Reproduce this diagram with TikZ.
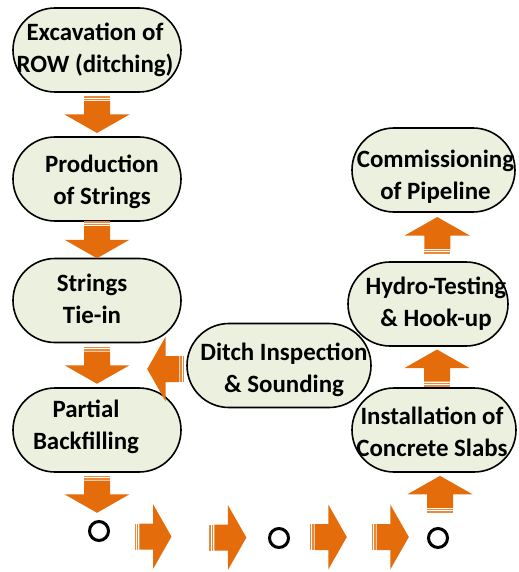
\documentclass[tikz,border=0pt]{standalone}
\usepackage{fontspec}
\setmainfont{Carlito}
\usetikzlibrary{calc,shapes.misc}
\definecolor{arrorange}{HTML}{E46C0A}
\definecolor{boxfill}{HTML}{EBF1DE}
\tikzset{
  procbox/.style={rounded rectangle, draw=black, line width=1.6bp, fill=boxfill,
    minimum height=84bp, inner sep=0pt},
  boxtext/.style={align=center, inner sep=0pt, font=\bfseries\fontsize{25}{32}\selectfont},
  dot/.style={circle, draw=black, line width=3bp, minimum size=19bp, inner sep=0pt},
  arrbody/.style={fill=arrorange},
  arrstripe/.style={fill=arrorange!80},
  sarrow/.pic={
    \fill[arrstripe] (-18.5,-13) rectangle (-16.9,13);
    \fill[arrstripe] (-15.9,-13) rectangle (-14.6,13);
    \fill[arrbody] (-13.6,-13) -- (0,-13) -- (0,-32.5) -- (18.5,0) -- (0,32.5) -- (0,13) -- (-13.6,13) -- cycle;
  }
}
\begin{document}
\begin{tikzpicture}[x=1bp,y=-1bp]
\useasboundingbox (0,0) rectangle (519,572);
% boxes
\node[procbox, minimum width=168bp] (b1) at (97,50) {};
\node[procbox, minimum width=168bp] (b2) at (97,179) {};
\node[procbox, minimum width=168bp] (b3) at (97,300.5) {};
\node[procbox, minimum width=168bp] (b4) at (97,430) {};
\node[procbox, minimum width=184bp] (b5) at (279,365.5) {};
\node[procbox, minimum width=164bp] (b6) at (434,430) {};
\node[procbox, minimum width=160bp] (b7) at (428,304) {};
\node[procbox, minimum width=163bp] (b8) at (433.5,170) {};
% texts
\node[boxtext] (t1) at ($(b1)+(-2,0)$) {Excavation of\\ROW (ditching)};
\node[boxtext] (t2) at ($(b2)+(5,3)$) {Production\\of Strings};
\node[boxtext] (t3) at ($(b3)+(-5,-2)$) {Strings\\Tie-in};
\node[boxtext] (t4) at ($(b4)+(-11,-3)$) {Partial\\Backfilling};
\node[boxtext] (t5) at ($(b5)+(5,4)$) {Ditch Inspection\\\& Sounding};
\node[boxtext] (t6) at ($(b6)+(-2,2)$) {Installation of\\Concrete Slabs};
\node[boxtext] (t7) at ($(b7)+(8,0)$) {Hydro-Testing\\\& Hook-up};
\node[boxtext] (t8) at ($(b8)+(2,7)$) {Commissioning\\of Pipeline};
% circles
\node[dot] (c1) at (99,531) {};
\node[dot] (c2) at (279,538) {};
\node[dot] (c3) at (438,538) {};
% arrows between boxes
\pic[rotate=-90] at ($(b1.south)!0.5!(b2.north)$) {sarrow};
\pic[rotate=-90] at ($(b2.south)!0.5!(b3.north)$) {sarrow};
\pic[rotate=-90] at ($(b3.south)!0.5!(b4.north)$) {sarrow};
\pic[rotate=-90] at ($(b4.south)+(0,21.5)$) {sarrow};
\pic[rotate=180] at ($(b5.west)+(-20.5,3.5)$) {sarrow};
\pic[rotate=90] at ($(b6.south)+(6,21.5)$) {sarrow};
\pic[rotate=90] at ($(b7.south)!0.5!(b6.north)+(6,1)$) {sarrow};
\pic[rotate=90] at ($(b8.south)!0.5!(b7.north)+(6.5,-1.5)$) {sarrow};
% bottom row
\pic at ($(c1)!0.3!(c2)+(0,3.5)$) {sarrow};
\pic at ($(c1)!0.716!(c2)+(0,1.5)$) {sarrow};
\pic at ($(c2)!0.31!(c3)+(0,-1)$) {sarrow};
\pic at ($(c2)!0.70!(c3)+(0,-1)$) {sarrow};
\end{tikzpicture}
\end{document}
